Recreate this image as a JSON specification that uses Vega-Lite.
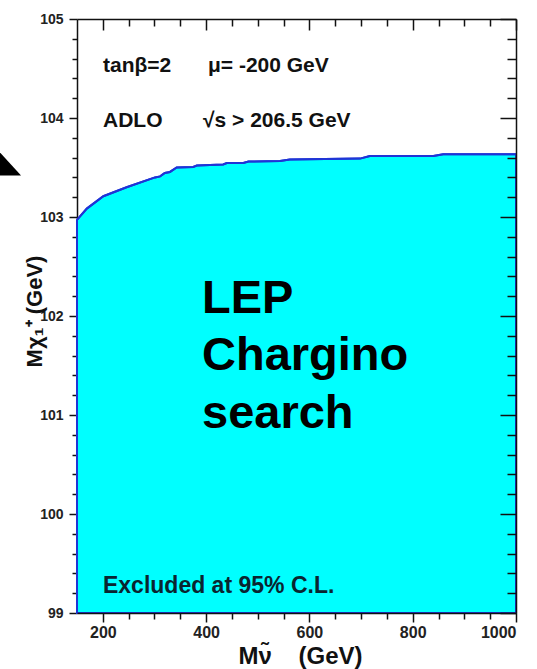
{
  "$schema": "https://vega.github.io/schema/vega-lite/v6.json",
  "width": 439,
  "height": 594,
  "autosize": "none",
  "padding": {"left": 77, "top": 19, "right": 21, "bottom": 56},
  "background": "white",
  "config": {
    "view": {"stroke": null},
    "axis": {
      "grid": false,
      "labelFont": "Liberation Sans",
      "labelFontWeight": "bold",
      "labelColor": "#222222",
      "tickColor": "#111111",
      "domainColor": "#111111",
      "titleFont": "Liberation Sans",
      "titleFontWeight": "bold",
      "titleColor": "#111111",
      "tickWidth": 1.5,
      "domainWidth": 1.5
    }
  },
  "datasets": {
    "boundary": [
      {"msnu": 150, "mchi": 102.97},
      {"msnu": 169, "mchi": 103.085},
      {"msnu": 201, "mchi": 103.21},
      {"msnu": 246, "mchi": 103.3},
      {"msnu": 301, "mchi": 103.4},
      {"msnu": 311, "mchi": 103.41},
      {"msnu": 320, "mchi": 103.445},
      {"msnu": 330, "mchi": 103.455},
      {"msnu": 343, "mchi": 103.5},
      {"msnu": 375, "mchi": 103.505},
      {"msnu": 382, "mchi": 103.52},
      {"msnu": 433, "mchi": 103.53},
      {"msnu": 440, "mchi": 103.545},
      {"msnu": 472, "mchi": 103.545},
      {"msnu": 482, "mchi": 103.56},
      {"msnu": 543, "mchi": 103.566},
      {"msnu": 562, "mchi": 103.58},
      {"msnu": 698, "mchi": 103.59},
      {"msnu": 717, "mchi": 103.617},
      {"msnu": 840, "mchi": 103.617},
      {"msnu": 859, "mchi": 103.634},
      {"msnu": 1000, "mchi": 103.634}
    ],
    "params": [
      {"label": "tanβ=2", "msnu": 200.3, "mchi": 104.467},
      {"label": "μ= -200 GeV", "msnu": 403.6, "mchi": 104.467},
      {"label": "ADLO", "msnu": 200.3, "mchi": 103.907},
      {"label": "√s > 206.5 GeV", "msnu": 394, "mchi": 103.907}
    ],
    "big": [
      {"label": "LEP", "msnu": 392, "mchi": 102.035},
      {"label": "Chargino", "msnu": 392, "mchi": 101.45},
      {"label": "search", "msnu": 392, "mchi": 100.87}
    ],
    "excl": [
      {"label": "Excluded at 95% C.L.", "msnu": 200.3, "mchi": 99.202}
    ],
    "arrow": [
      {"msnu": 20.3, "mchi": 103.5}
    ]
  },
  "layer": [
    {
      "data": {"name": "boundary"},
      "mark": {"type": "area", "fill": "#00FFFF", "stroke": "#1f35d6", "strokeWidth": 2},
      "encoding": {
        "x": {
          "field": "msnu", "type": "quantitative",
          "scale": {"domain": [150, 1000], "nice": false, "zero": false},
          "axis": {
            "orient": "bottom", "values": [200, 400, 600, 800, 1000], "format": "d",
            "tickSize": 9, "labelFontSize": 16, "labelPadding": 2,
            "title": "Mν̃\u00a0\u00a0\u00a0\u00a0(GeV)", "titleFontSize": 24,
            "titleX": 223, "titleY": 50, "titleAlign": "center", "titleBaseline": "alphabetic",
            "zindex": 1
          }
        },
        "y": {
          "field": "mchi", "type": "quantitative",
          "scale": {"domain": [99, 105], "nice": false, "zero": false},
          "axis": {
            "orient": "left", "values": [99, 100, 101, 102, 103, 104, 105],
            "tickSize": 8, "labelFontSize": 14, "labelPadding": 6,
            "title": "Mχ₁⁺ (GeV)", "titleFontSize": 22,
            "titleX": -36, "titleY": 292, "titleAngle": -90, "titleAlign": "center", "titleBaseline": "alphabetic"
          }
        },
        "y2": {"datum": 99}
      }
    },
    {
      "data": {"name": "boundary"},
      "mark": {"type": "line", "color": "#1f35d6", "strokeWidth": 2},
      "encoding": {
        "x": {
          "field": "msnu", "type": "quantitative",
          "axis": {
            "orient": "bottom",
            "values": [250, 300, 350, 450, 500, 550, 650, 700, 750, 850, 900, 950],
            "tickSize": 6, "labels": false, "domain": false, "title": null
          }
        },
        "y": {
          "field": "mchi", "type": "quantitative",
          "axis": {
            "orient": "left",
            "values": [99.2, 99.4, 99.6, 99.8, 100.2, 100.4, 100.6, 100.8, 101.2, 101.4, 101.6, 101.8, 102.2, 102.4, 102.6, 102.8, 103.2, 103.4, 103.6, 103.8, 104.2, 104.4, 104.6, 104.8],
            "tickSize": 5, "labels": false, "domain": false, "title": null
          }
        }
      }
    },
    {
      "data": {"name": "params"},
      "mark": {"type": "text", "align": "left", "baseline": "alphabetic", "font": "Liberation Sans", "fontWeight": "bold", "fontSize": 21, "color": "#111111"},
      "encoding": {
        "x": {
          "field": "msnu", "type": "quantitative",
          "axis": {
            "orient": "top", "values": [200, 400, 600, 800, 1000],
            "tickSize": -11, "labels": false, "title": null, "zindex": 1
          }
        },
        "y": {
          "field": "mchi", "type": "quantitative",
          "axis": {
            "orient": "right", "values": [99, 100, 101, 102, 103, 104, 105],
            "tickSize": -16, "labels": false, "title": null, "zindex": 1
          }
        },
        "text": {"field": "label"}
      }
    },
    {
      "data": {"name": "big"},
      "mark": {"type": "text", "align": "left", "baseline": "alphabetic", "font": "Liberation Sans", "fontWeight": "bold", "fontSize": 47, "color": "#000000"},
      "encoding": {
        "x": {
          "field": "msnu", "type": "quantitative",
          "axis": {
            "orient": "top",
            "values": [250, 300, 350, 450, 500, 550, 650, 700, 750, 850, 900, 950],
            "tickSize": -7, "labels": false, "domain": false, "title": null, "zindex": 1
          }
        },
        "y": {
          "field": "mchi", "type": "quantitative",
          "axis": {
            "orient": "right",
            "values": [99.2, 99.4, 99.6, 99.8, 100.2, 100.4, 100.6, 100.8, 101.2, 101.4, 101.6, 101.8, 102.2, 102.4, 102.6, 102.8, 103.2, 103.4, 103.6, 103.8, 104.2, 104.4, 104.6, 104.8],
            "tickSize": -9, "labels": false, "domain": false, "title": null, "zindex": 1
          }
        },
        "text": {"field": "label"}
      }
    },
    {
      "data": {"name": "excl"},
      "mark": {"type": "text", "align": "left", "baseline": "alphabetic", "font": "Liberation Sans", "fontWeight": "bold", "fontSize": 23, "color": "#0a2530"},
      "encoding": {
        "x": {"field": "msnu", "type": "quantitative", "axis": null},
        "y": {"field": "mchi", "type": "quantitative", "axis": null},
        "text": {"field": "label"}
      }
    },
    {
      "data": {"name": "arrow"},
      "mark": {"type": "point", "filled": true, "color": "#000000", "opacity": 1, "size": 1024, "shape": "M -1.25 -1.63 L 0.69 0.5 L -1.25 0.5 Z", "clip": false},
      "encoding": {
        "x": {"field": "msnu", "type": "quantitative", "axis": null},
        "y": {"field": "mchi", "type": "quantitative", "axis": null}
      }
    }
  ],
  "resolve": {"axis": {"x": "independent", "y": "independent"}}
}
